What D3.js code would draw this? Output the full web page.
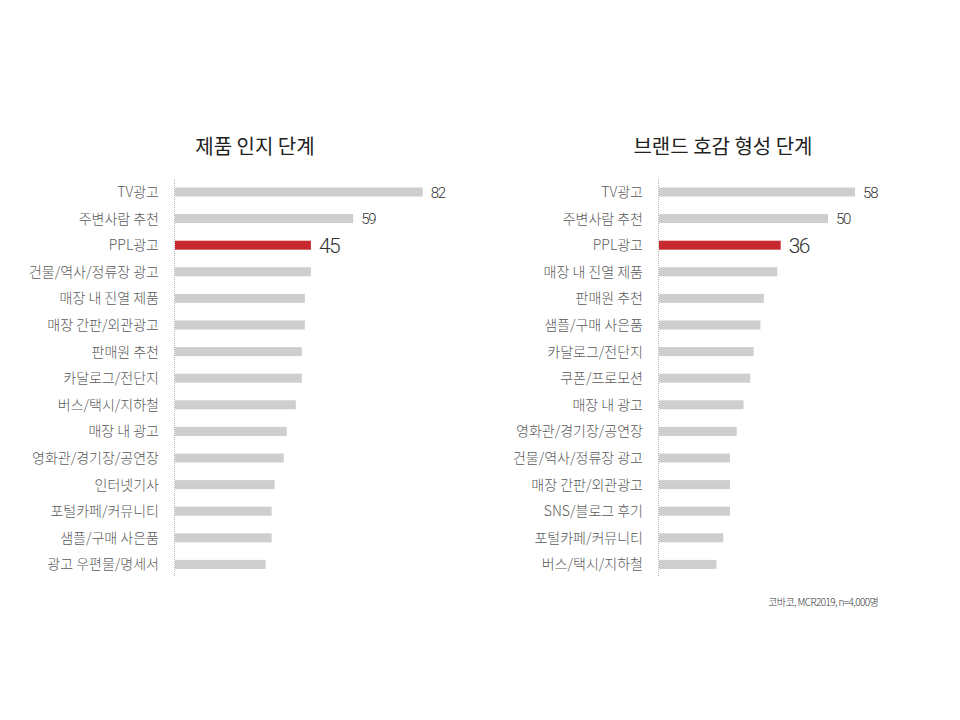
<!DOCTYPE html>
<html><head><meta charset="utf-8">
<script src="https://cdn.jsdelivr.net/npm/d3@7"></script>
<style>
body{margin:0;background:#fff;}
svg{display:block;}
</style></head>
<body>
<svg id="chart" width="960" height="720"></svg>
<script>
const leftTitle = "제품 인지 단계";
const leftCategories = ["TV광고","주변사람 추천","PPL광고","건물/역사/정류장 광고","매장 내 진열 제품","매장 간판/외관광고","판매원 추천","카달로그/전단지","버스/택시/지하철","매장 내 광고","영화관/경기장/공연장","인터넷기사","포털카페/커뮤니티","샘플/구매 사은품","광고 우편물/명세서"];
const leftValues = [82,59,45,45,43,43,42,42,40,37,36,33,32,32,30];
const leftShown = [82,59,45];

const rightTitle = "브랜드 호감 형성 단계";
const rightCategories = ["TV광고","주변사람 추천","PPL광고","매장 내 진열 제품","판매원 추천","샘플/구매 사은품","카달로그/전단지","쿠폰/프로모션","매장 내 광고","영화관/경기장/공연장","건물/역사/정류장 광고","매장 간판/외관광고","SNS/블로그 후기","포털카페/커뮤니티","버스/택시/지하철"];
const rightValues = [58,50,36,35,31,30,28,27,25,23,21,21,21,19,17];
const rightShown = [58,50,36];

const highlight = "PPL광고";
const source = "코바코, MCR2019, n=4,000명";

const svg = d3.select("#chart");
const KFONT = "'Noto Sans CJK KR','Noto Sans',sans-serif";

function panel(cfg){
  const g = svg.append("g");
  const x = d3.scaleLinear().domain([0,100]).range([cfg.x0, cfg.x0 + cfg.pxPerUnit*100]);
  const y = d3.scalePoint().domain(cfg.categories).range([192, 564.4]);
  const barH = 9;

  g.append("text").attr("x", cfg.titleX).attr("y", 154)
    .attr("text-anchor","middle").attr("font-family",KFONT)
    .attr("font-size",20).attr("font-weight",400).attr("fill","#222")
    .text(cfg.title);

  g.append("line").attr("x1", x(0)-0.5).attr("x2", x(0)-0.5).attr("y1",179).attr("y2",577)
    .attr("stroke","#b5b5b5").attr("stroke-width",1).attr("stroke-dasharray","1,1");

  const data = cfg.categories.map((c,i)=>({c, v:cfg.values[i], i}));

  g.selectAll("rect.bar").data(data).enter().append("rect")
    .attr("x", x(0)).attr("y", d=>y(d.c)-barH/2)
    .attr("width", d=>x(d.v)-x(0)).attr("height", barH)
    .attr("fill", d=> d.c===highlight ? "#c62a2f" : "#cecece");

  g.selectAll("text.cat").data(data).enter().append("text")
    .attr("x", cfg.labelX).attr("y", d=>y(d.c)+5)
    .attr("text-anchor","end").attr("font-family",KFONT)
    .attr("font-size",14).attr("font-weight",300).attr("fill","#5a5a5a")
    .text(d=>d.c);

  const shown = data.filter(d=>d.i < cfg.shown.length);
  g.selectAll("text.val").data(shown).enter().append("text")
    .attr("x", d=>x(cfg.shown[d.i])+8).attr("y", d=>y(d.c)+ (d.c===highlight?7.5:5.5))
    .attr("font-family","Roboto, 'DejaVu Sans', sans-serif")
    .attr("font-weight",300).attr("fill","#333")
    .attr("font-size", d=> d.c===highlight ? 21 : 15)
    .attr("letter-spacing", d=> d.c===highlight ? "-1.5" : "-1.2")
    .text(d=>cfg.shown[d.i]);
}

panel({title:leftTitle, categories:leftCategories, values:leftValues, shown:leftShown,
  x0:175, pxPerUnit:3.02, labelX:159, titleX:255});
panel({title:rightTitle, categories:rightCategories, values:rightValues, shown:rightShown,
  x0:659, pxPerUnit:3.38, labelX:643, titleX:723});

svg.append("text").attr("x",878).attr("y",606).attr("text-anchor","end")
  .attr("font-family",KFONT).attr("font-size",10).attr("font-weight",300)
  .attr("fill","#333").attr("letter-spacing","-0.6").text(source);
</script>
</body></html>
